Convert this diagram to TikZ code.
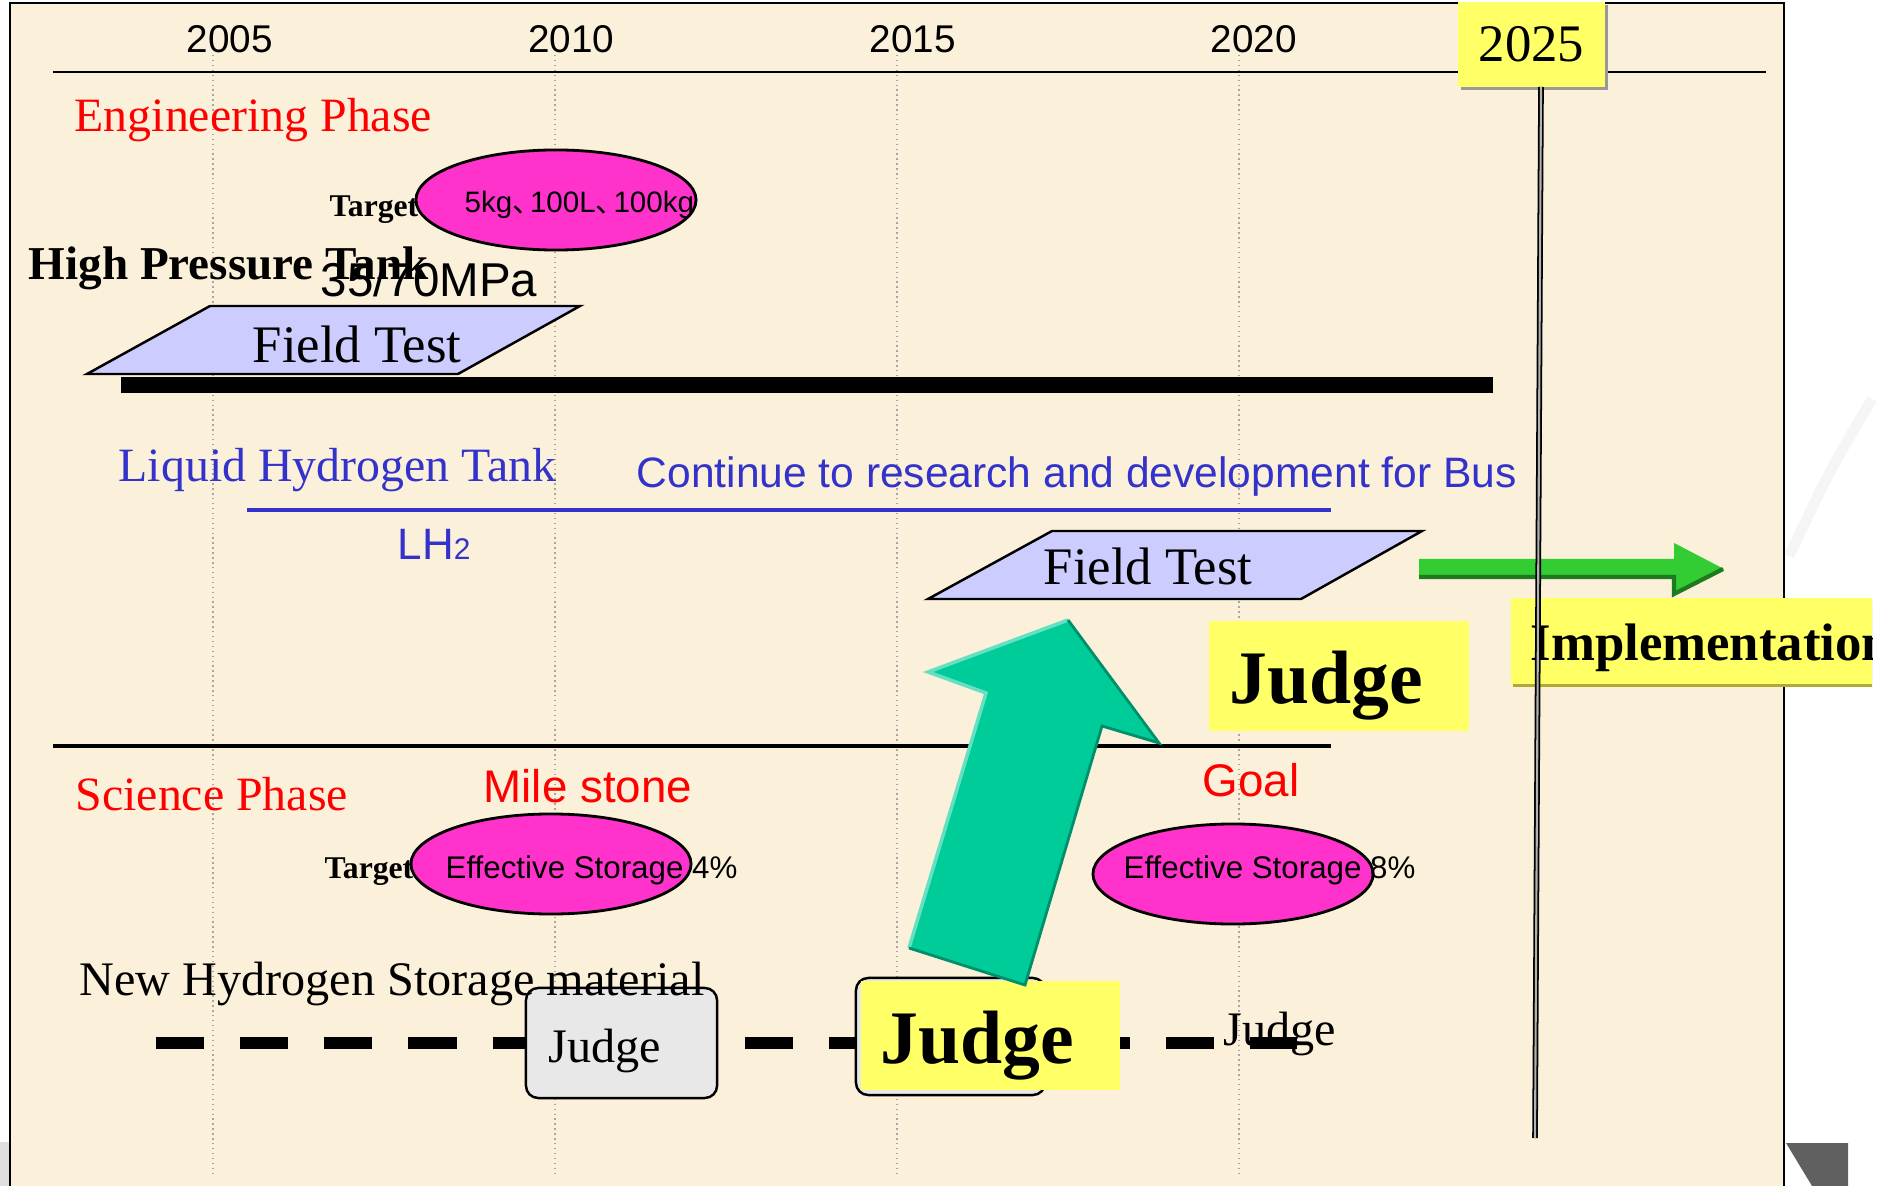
\documentclass[tikz,border=0pt]{standalone}
\usepackage{fontspec}
\setmainfont{Liberation Serif}
\setsansfont{Liberation Sans}
\newfontfamily\cjk{Noto Sans CJK SC}
\usepackage{tikz}
\usetikzlibrary{shapes.geometric,shadows}
\definecolor{paper}{HTML}{FBF0D9}
\definecolor{pinkfill}{HTML}{FF33CC}
\definecolor{lavender}{HTML}{CCCCFF}
\definecolor{notepad}{HTML}{FFFF66}
\definecolor{inkblue}{HTML}{3333CC}
\definecolor{tealarrow}{HTML}{00CC99}
\definecolor{grassgreen}{HTML}{33CC33}
\tikzset{
    grid-line/.style = {gray!70, densely dotted, line width=0.4pt},
    year-label/.style = {anchor=base, inner sep=0pt, font=\sffamily\fontsize{11}{11}\selectfont},
    year-box/.style = {fill=notepad, inner sep=0pt, minimum width=1.47cm, minimum height=0.85cm, drop shadow={shadow xshift=0.8pt, shadow yshift=-0.8pt, fill=gray!80, opacity=1}, font=\fontsize{15}{15}\selectfont},
    phase-label/.style = {anchor=base west, inner sep=0pt, text=red, font=\fontsize{13.6}{14}\selectfont},
    target-ellipse/.style = {ellipse, draw, fill=pinkfill, line width=0.8pt, inner sep=0pt, minimum width=2.8cm, minimum height=1cm},
    target-label/.style = {anchor=base west, inner sep=0pt, font=\bfseries\fontsize{9}{9}\selectfont},
    goal-text/.style = {anchor=base west, inner sep=0pt, font=\sffamily\fontsize{8.9}{9}\selectfont},
    field-test/.style = {draw, fill=lavender, line width=0.7pt},
    field-text/.style = {anchor=base west, inner sep=0pt, font=\fontsize{15}{15}\selectfont},
    note-box/.style = {fill=notepad, inner sep=0pt},
    big-judge/.style = {anchor=base west, inner sep=0pt, font=\bfseries\fontsize{21.5}{22}\selectfont},
    plain-judge/.style = {anchor=base west, inner sep=0pt, font=\fontsize{13.7}{14}\selectfont},
    judge-card/.style = {draw, fill=gray!18, rounded corners=3.5pt, line width=0.7pt, inner sep=0pt},
    milestone-label/.style = {anchor=base west, inner sep=0pt, text=red, font=\sffamily\fontsize{13}{13}\selectfont},
}
\newcommand{\jcomma}{\makebox[0.6em][l]{\cjk 、}}

\begin{document}
\begin{tikzpicture}[x=0.01cm, y=-0.01cm]
\useasboundingbox (0,0) rectangle (1895,1186);
\fill[white] (0,0) rectangle (1895,1186);
\fill[paper] (10,3) rectangle (1784,1186);
\fill[gray!25] (0,1142) rectangle (10,1186);
\fill[gray!75!black] (1786,1143) -- (1848,1143) -- (1848,1186) -- (1812,1186) -- cycle;
\draw[gray!8, line width=3pt] (1872,399) .. controls (1830,470) .. (1789,556);
\draw[line width=0.7pt] (10,1186) -- (10,3) -- (1784,3) -- (1784,1186);

% time axis
\foreach \yr [count=\i from 0] in {2005,2010,2015,2020} {
    \draw[grid-line] (213+342*\i,55) -- (213+342*\i,1177);
    \node[year-label] (year-\yr) at (230+341.3*\i,53) {\yr};
}
\draw[line width=0.8pt] (53,72) -- (1766,72);
\node[year-box] (year-2025) at (1531.5,44.5) {2025};

% engineering phase
\node[phase-label] (eng-phase) at (74,132) {Engineering Phase};
\node[target-ellipse] (hp-goal) at (556,200) {};
\node[target-label] (hp-target) at (329,217) {Target};
\node[anchor=base west, inner sep=0pt, font=\sffamily\fontsize{8.4}{9}\selectfont] (hp-goal-text) at (464,213) {5kg\jcomma 100L\jcomma 100kg};
\node[anchor=base west, inner sep=0pt, font=\sffamily\fontsize{13.5}{14}\selectfont] (hp-pressure) at (320,297) {35/70MPa};
\node[anchor=base west, inner sep=0pt, font=\bfseries\fontsize{13.4}{14}\selectfont] (hp-tank) at (28,280) {High Pressure Tank};
\draw[field-test] (87,374) -- (210,306) -- (580,306) -- (458,374) -- cycle;
\node[field-text] (hp-field) at (252,363) {Field Test};
\draw[line width=4.5pt] (121,385) -- (1493,385);

\node[anchor=base west, inner sep=0pt, text=inkblue, font=\fontsize{13.6}{14}\selectfont] (lh-tank) at (118,482) {Liquid Hydrogen Tank};
\node[anchor=base west, inner sep=0pt, text=inkblue, font=\sffamily\fontsize{12.1}{13}\selectfont] (lh-bus) at (636,488) {Continue to research and development for Bus};
\draw[inkblue, line width=1pt] (247,510) -- (1331,510);
\node[anchor=base west, inner sep=0pt, text=inkblue, font=\sffamily\fontsize{12.5}{13}\selectfont] (lh-formula) at (397,560) {LH{\fontsize{8.5}{9}\selectfont 2}};
\draw[field-test] (928,599) -- (1052,531) -- (1422,531) -- (1301,599) -- cycle;
\node[field-text] (lh-field) at (1043,585) {Field Test};

\fill[grassgreen] (1419,559) -- (1674,559) -- (1674,543) -- (1724,569) -- (1674,595) -- (1674,578) -- (1419,578) -- cycle;
\draw[grassgreen!60!black, line width=1.2pt] (1419,577) -- (1674,577) -- (1674,594) -- (1723,569);
\begin{scope}
    \clip (1500,590) rectangle (1872,700);
    \node[note-box, minimum width=3.61cm, minimum height=0.86cm, drop shadow={shadow xshift=0.5pt, shadow yshift=-0.8pt, fill=olive!70, opacity=1}] (impl-box) at (1691.5,641) {};
    \node[anchor=base west, inner sep=0pt, font=\bfseries\fontsize{15}{15}\selectfont] (impl-text) at (1530,660) {Implementation};
\end{scope}
\node[note-box, minimum width=2.6cm, minimum height=1.1cm] (judge-top) at (1339,676) {};
\node[big-judge] (judge-top-text) at (1229,703) {Judge};

% science phase
\draw[line width=1.2pt] (53,746) -- (1331,746);
\node[phase-label] (sci-phase) at (75,810) {Science Phase};
\node[milestone-label] (sci-mile) at (483,802) {Mile stone};
\node[milestone-label] (sci-goal) at (1202,796) {Goal};
\node[target-ellipse] (sci-mid) at (551,864) {};
\node[target-ellipse] (sci-end) at (1233,874) {};
\node[target-label] (sci-target) at (324,878) {Target};
\node[goal-text] (sci-mid-text) at (445,878) {Effective Storage 4\%};
\node[goal-text] (sci-end-text) at (1123,878) {Effective Storage 8\%};

\draw[line width=3.4pt, dash pattern=on 13.66pt off 10.27pt] (156,1043) -- (1297,1043);
\node[judge-card, minimum width=1.91cm, minimum height=1.1cm] (judge-mid) at (621.5,1043) {};
\node[plain-judge] (judge-mid-text) at (548,1062) {Judge};
\node[anchor=base west, inner sep=0pt, font=\fontsize{13.7}{14}\selectfont] (sci-material) at (79,995) {New Hydrogen Storage material};
\node[judge-card, minimum width=1.89cm, minimum height=1.17cm] (judge-card-low) at (950.5,1036.5) {};
\node[note-box, minimum width=2.59cm, minimum height=1.09cm] (judge-low) at (990.5,1035.5) {};
\node[big-judge] (judge-low-text) at (880,1063) {Judge};
\node[plain-judge] (judge-end) at (1223,1045) {Judge};

\fill[tealarrow] (909,948) -- (986,693) -- (928,672) -- (1068,620) -- (1159,743) -- (1102,726) -- (1025,985) -- cycle;
\draw[tealarrow!60!white, line width=1pt] (909,948) -- (986,693) -- (928,672) -- (1068,620);
\draw[tealarrow!70!black, line width=0.8pt] (1068,620) -- (1159,743) -- (1102,726) -- (1025,985) -- (909,948);

\draw[line width=0.5pt, double=gray!60, double distance=0.6pt] (1541,87) -- (1535,1138);
\end{tikzpicture}
\end{document}
